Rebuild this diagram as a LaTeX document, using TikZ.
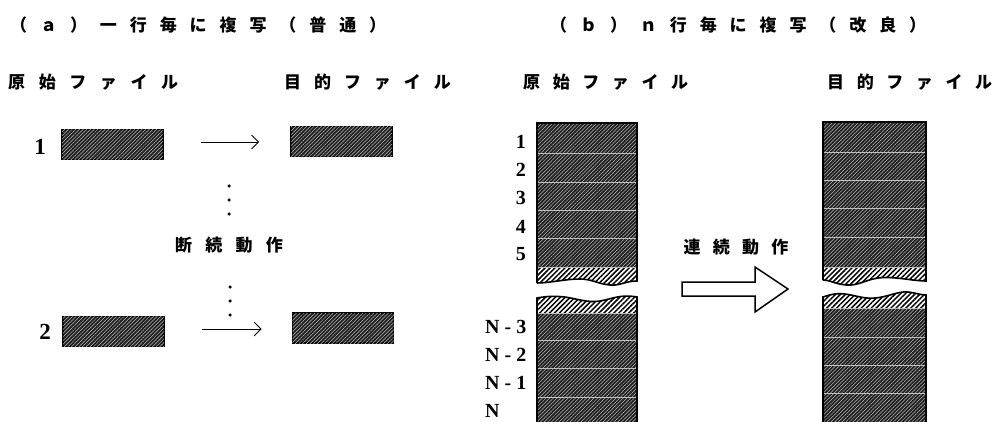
\documentclass[tikz,border=0pt]{standalone}
\usepackage{fontspec}
\usetikzlibrary{patterns.meta,arrows.meta}
\newfontfamily\jp{Noto Sans CJK JP}[UprightFeatures={FakeBold=1.5}]
\newfontfamily\numf{Liberation Serif}
\newcommand\jpt[2]{{\jp\bfseries\addfontfeature{LetterSpace=#1}#2}}
\tikzset{
  dark/.style={fill=black!88, postaction={pattern={Lines[angle=45,distance=2.6pt,line width=0.5pt]}, pattern color=gray!50}},
  lightstrip/.style={fill=white, postaction={pattern={Lines[angle=45,distance=3.5pt,line width=1.5pt]}, pattern color=black}},
  rowbox/.style={draw=black, line width=1.6pt, dark, minimum width=101pt, minimum height=30pt, inner sep=0pt},
  sep/.style={draw=gray!50, line width=0.7pt},
  edge/.style={draw=black, line width=1.6pt},
  thinarrow/.style={-{Straight Barb[length=7pt,width=14pt]}, line width=0.9pt},
  title/.style={anchor=west, inner sep=0pt, font=\fontsize{17}{17}\selectfont},
  head/.style={anchor=west, inner sep=0pt, font=\fontsize{17}{17}\selectfont},
  numA/.style={inner sep=0pt, font=\numf\bfseries\fontsize{23}{23}\selectfont},
  numB/.style={anchor=east, inner sep=0pt, font=\numf\bfseries\fontsize{20}{20}\selectfont},
  numN/.style={anchor=west, inner sep=0pt, font=\numf\bfseries\fontsize{20}{20}\selectfont},
  dotn/.style={circle, fill=black, inner sep=0pt, minimum size=3.5pt}
}
\begin{document}
\begin{tikzpicture}[x=1pt,y=-1pt]
\useasboundingbox (0,0) rectangle (1006,422);

% ---------- titles ----------
\node[title] (ta) at (10,25) {\jpt{76}{（ａ）一行毎に複写（普通）}};
\node[title] (tb) at (550,25) {\jpt{76}{（ｂ）ｎ行毎に複写（改良）}};
\node[head] (ha1) at (8,82) {\jpt{80}{原始ファイル}};
\node[head] (ha2) at (284,82) {\jpt{76}{目的ファイル}};
\node[head] (hb1) at (523,82) {\jpt{74}{原始ファイル}};
\node[head] (hb2) at (827,82) {\jpt{74}{目的ファイル}};

% ---------- part (a) ----------
\node[rowbox] (s1) at (112.5,144.5) {};
\node[rowbox] (d1) at (341.5,141.5) {};
\node[rowbox] (s2) at (113.5,331.5) {};
\node[rowbox] (d2) at (343,328) {};
\node[numA] (n1) at (40,147) {1};
\node[numA] (n2) at (45,332) {2};
\draw[thinarrow, shorten <=37pt, shorten >=31pt] (s1.east |- 0,142) coordinate (a1s) -- (d1.west |- 0,142) coordinate (a1e);
\draw[thinarrow, shorten <=37pt, shorten >=30pt] (s2.east |- 0,329) coordinate (a2s) -- (d2.west |- 0,329) coordinate (a2e);
\node[dotn] (p1) at (229,186) {};
\node[dotn] (p2) at (229,200) {};
\node[dotn] (p3) at (229,214) {};
\node[font=\fontsize{17}{17}\selectfont, inner sep=0pt] (op1) at (229,245) {\jpt{78}{断続動作}};
\node[dotn] (p4) at (230,287) {};
\node[dotn] (p5) at (230,301) {};
\node[dotn] (p6) at (230,315) {};

% ---------- part (b): source column ----------
% top piece
\begin{scope}
  \clip (537,123) -- (637,123) -- (637,281)
    .. controls (625,281) and (620,286) .. (610,285)
    .. controls (598,284) and (592,279) .. (580,279)
    .. controls (565,279) and (550,283) .. (537,283) -- cycle;
  \path[dark] (537,123) rectangle (637,267);
  \path[lightstrip] (537,267) rectangle (637,292);
  \foreach \yy in {153,182,210,238,267} \draw[sep] (537,\yy) -- (637,\yy);
\end{scope}
\draw[edge] (537,283) -- (537,123) -- (637,123) -- (637,281)
    .. controls (625,281) and (620,286) .. (610,285)
    .. controls (598,284) and (592,279) .. (580,279)
    .. controls (565,279) and (550,283) .. (537,283);
% bottom piece
\begin{scope}
  \clip (537,298) .. controls (548,296) and (555,296) .. (565,297)
    .. controls (578,299) and (588,303) .. (600,301)
    .. controls (612,299) and (620,294) .. (637,297) -- (637,422) -- (537,422) -- cycle;
  \path[lightstrip] (537,290) rectangle (637,313);
  \path[dark] (537,313) rectangle (637,422);
  \foreach \yy in {313,340,368,397} \draw[sep] (537,\yy) -- (637,\yy);
\end{scope}
\draw[edge] (537,422) -- (537,298) .. controls (548,296) and (555,296) .. (565,297)
    .. controls (578,299) and (588,303) .. (600,301)
    .. controls (612,299) and (620,294) .. (637,297) -- (637,422);

\node[numB] (r1) at (526,142) {1};
\node[numB] (r2) at (526,170) {2};
\node[numB] (r3) at (526,198) {3};
\node[numB] (r4) at (526,227) {4};
\node[numB] (r5) at (526,254) {5};
\node[numN] (rn3) at (485,327) {N - 3};
\node[numN] (rn2) at (485,355) {N - 2};
\node[numN] (rn1) at (485,383) {N - 1};
\node[numN] (rn0) at (485,411) {N};

% ---------- big arrow ----------
\node[font=\fontsize{17}{17}\selectfont, inner sep=0pt] (op2) at (736,247) {\jpt{72}{連続動作}};
\draw[line width=1.5pt, fill=white] (682,282) -- (755,282) -- (755,267) -- (788,289)
   -- (755,312) -- (755,296) -- (682,296) -- cycle;

% ---------- part (b): target column ----------
\begin{scope}
  \clip (823,122) -- (926,122) -- (926,281)
    .. controls (912,281) and (895,276) .. (878,278)
    .. controls (865,280) and (858,286) .. (846,285)
    .. controls (835,284) and (830,280) .. (823,280) -- cycle;
  \path[dark] (823,122) rectangle (926,267);
  \path[lightstrip] (823,267) rectangle (926,292);
  \foreach \yy in {152,180,208,237,267} \draw[sep] (823,\yy) -- (926,\yy);
\end{scope}
\draw[edge] (823,280) -- (823,122) -- (926,122) -- (926,281)
    .. controls (912,281) and (895,276) .. (878,278)
    .. controls (865,280) and (858,286) .. (846,285)
    .. controls (835,284) and (830,280) .. (823,280);
\begin{scope}
  \clip (823,297) .. controls (832,294) and (838,293) .. (845,294)
    .. controls (858,296) and (865,299) .. (875,298)
    .. controls (888,297) and (898,291) .. (908,292)
    .. controls (916,293) and (921,295) .. (926,295) -- (926,422) -- (823,422) -- cycle;
  \path[lightstrip] (823,288) rectangle (926,308);
  \path[dark] (823,308) rectangle (926,422);
  \foreach \yy in {308,337,365,393} \draw[sep] (823,\yy) -- (926,\yy);
\end{scope}
\draw[edge] (823,422) -- (823,297) .. controls (832,294) and (838,293) .. (845,294)
    .. controls (858,296) and (865,299) .. (875,298)
    .. controls (888,297) and (898,291) .. (908,292)
    .. controls (916,293) and (921,295) .. (926,295) -- (926,422);
\end{tikzpicture}
\end{document}
